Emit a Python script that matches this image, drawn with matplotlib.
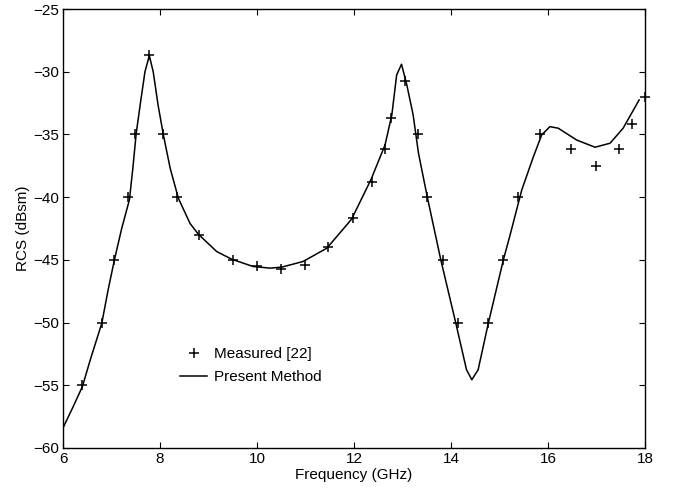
import matplotlib.pyplot as plt

plt.rcParams['font.family'] = ['Liberation Sans', 'DejaVu Sans']

# measured points (+)
meas_f = [6.4, 6.8, 7.05, 7.33, 7.48, 7.78, 8.07, 8.36, 8.8, 9.5, 10.0, 10.5,
          11.0, 11.47, 11.97, 12.38, 12.63, 12.76, 13.06, 13.33, 13.51, 13.84,
          14.14, 14.76, 15.08, 15.39, 15.83, 16.47, 16.98, 17.47, 17.73, 18.0]
meas_rcs = [-55, -50, -45, -40, -35, -28.7, -35, -40, -43, -45, -45.5, -45.7,
            -45.4, -44, -41.7, -38.8, -36.2, -33.7, -30.7, -35, -40, -45,
            -50, -50, -45, -40, -35, -36.2, -37.5, -36.2, -34.2, -32]

# present method curve
calc_f = [6.0, 6.21, 6.4, 6.56, 6.8, 6.93, 7.06, 7.21, 7.37, 7.44, 7.51, 7.6,
          7.69, 7.78, 7.86, 7.96, 8.07, 8.21, 8.38, 8.62, 8.79, 9.17, 9.48,
          9.92, 10.27, 10.51, 10.95, 11.44, 11.95, 12.35, 12.64, 12.78, 12.88,
          12.98, 13.09, 13.22, 13.33, 13.51, 13.79, 14.1, 14.32, 14.43, 14.56,
          14.77, 15.08, 15.22, 15.46, 15.7, 15.87, 16.04, 16.21, 16.59, 16.97,
          17.28, 17.55, 17.88]
calc_rcs = [-58.4, -56.7, -55.1, -53.0, -50.05, -47.4, -45.0, -42.5, -40.2,
            -37.7, -34.9, -32.4, -30.0, -28.72, -30.0, -32.65, -35.04, -37.7,
            -40.1, -42.1, -42.95, -44.34, -44.95, -45.53, -45.66, -45.58,
            -45.13, -44.07, -41.76, -38.6, -35.84, -33.45, -30.26, -29.4,
            -31.06, -33.45, -36.5, -39.96, -45.0, -50.05, -53.76, -54.56,
            -53.76, -50.05, -45.0, -43.0, -39.42, -36.77, -35.04, -34.38,
            -34.5, -35.44, -36.02, -35.7, -34.5, -32.25]

fig = plt.figure(figsize=(6.76, 4.93), dpi=100)
ax = fig.add_axes([0.0932, 0.0913, 0.8609, 0.8904])

ax.plot(meas_f, meas_rcs, '+', color='k', markersize=7, markeredgewidth=1.1,
        label='Measured [22]', clip_on=False)
ax.plot(calc_f, calc_rcs, '-', color='k', lw=1.1, label='Present Method')

ax.set_xlim(6, 18)
ax.set_ylim(-60, -25)
ax.set_xticks([6, 8, 10, 12, 14, 16, 18])
ax.set_yticks([-60, -55, -50, -45, -40, -35, -30, -25])
ax.tick_params(direction='in', top=True, right=True, length=4, width=0.8,
               labelsize=11, pad=3)
for s in ax.spines.values():
    s.set_linewidth(1.0)

ax.set_xlabel('Frequency (GHz)', fontsize=11, labelpad=1)
ax.set_ylabel('RCS (dBsm)', fontsize=11, labelpad=2)

ax.legend(loc='upper left', bbox_to_anchor=(0.201, 0.229), frameon=False,
          fontsize=11, borderpad=0, borderaxespad=0, handlelength=1.8,
          handletextpad=0.45, labelspacing=0.55)

fig.savefig('out.png', dpi=100)
